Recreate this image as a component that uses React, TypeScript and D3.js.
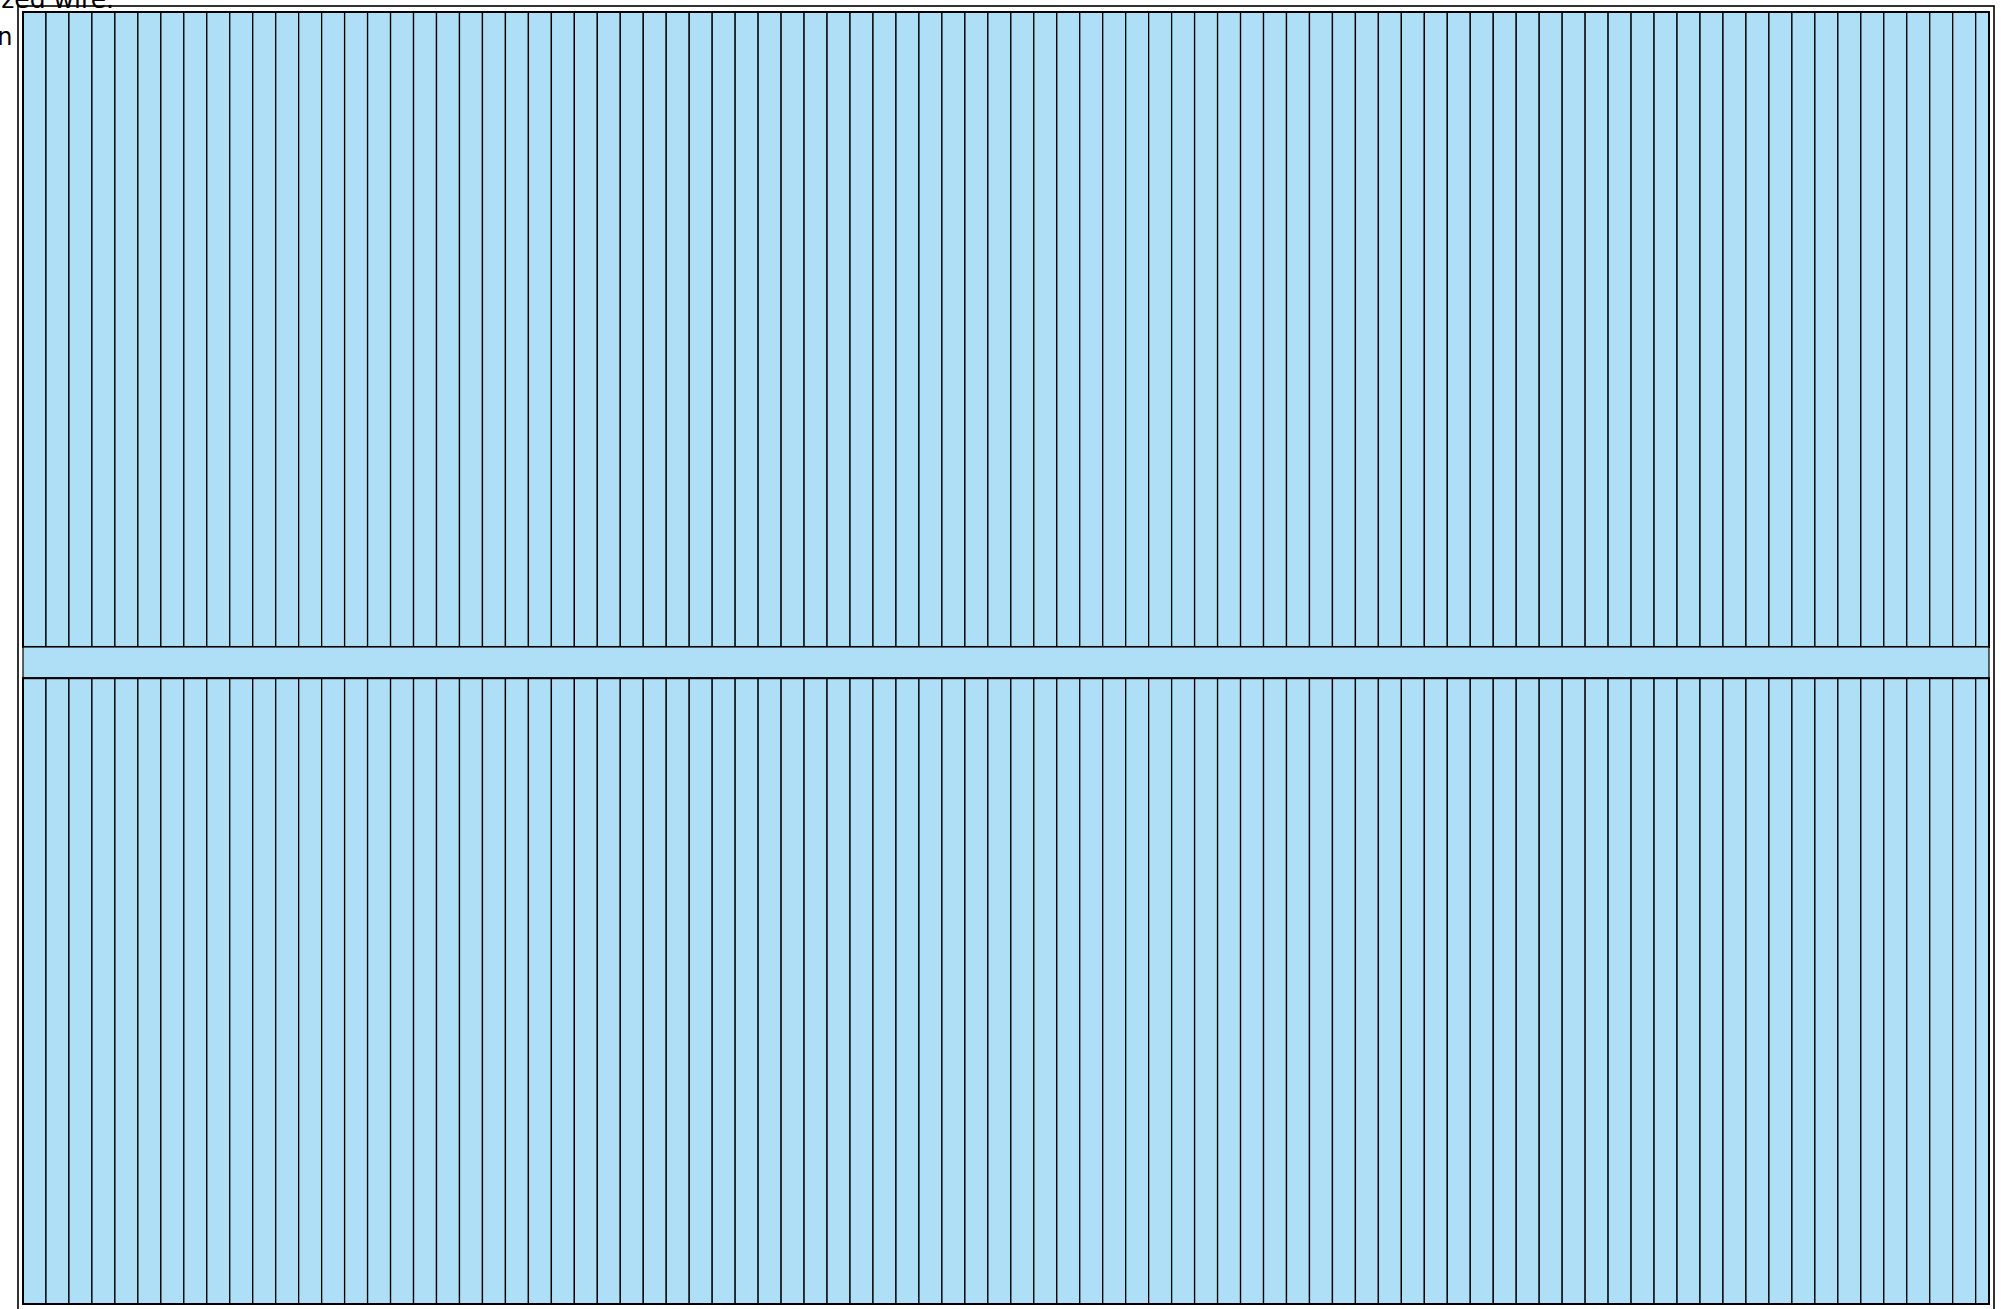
import React, { Component } from 'react';
import * as d3 from 'd3';

// panel layout in mm
const sections = ['Top mesh', 'Rail', 'Bottom mesh'];
const sectionHeights = [1382, 68, 1362];
const panelWidth = 4279;
const wirePitch = 50;

const title = 'Galvanized wire.';
const sideLabel = 'Elevation';

class App extends Component {
  svgRef = React.createRef<SVGSVGElement>();

  componentDidMount() {
    this.renderChart();
  }

  renderChart = () => {
    const svg = d3.select(this.svgRef.current);
    svg.selectAll('*').remove();

    const width = 2001;
    const height = 1309;
    const inner = { left: 23, top: 12, right: 1989, bottom: 1304 };

    const total = d3.sum(sectionHeights);
    const x = d3.scaleLinear().domain([0, panelWidth]).range([inner.left, inner.right]);
    const y = d3.scaleLinear().domain([0, total]).range([inner.top, inner.bottom]);

    const offsets = sectionHeights.map((h, i) => d3.sum(sectionHeights.slice(0, i)));
    const wires = d3.range(0, panelWidth, wirePitch);

    svg.attr('width', width).attr('height', height);

    // frame
    svg
      .append('rect')
      .attr('x', 18)
      .attr('y', 6)
      .attr('width', 1976)
      .attr('height', 1320)
      .attr('fill', 'none')
      .attr('stroke', '#000')
      .attr('stroke-width', 1.6);

    const g = svg.append('g');

    sections.forEach((name, i) => {
      const y0 = y(offsets[i]);
      const y1 = y(offsets[i] + sectionHeights[i]);
      const sg = g.append('g').attr('class', 'section').attr('data-name', name);

      if (name === 'Rail') {
        sg.append('rect')
          .attr('x', x(0))
          .attr('y', y0)
          .attr('width', x(panelWidth) - x(0))
          .attr('height', y1 - y0)
          .attr('fill', '#aedff7')
          .attr('stroke', '#000')
          .attr('stroke-width', 1.2);
        return;
      }

      sg.selectAll('.cell')
        .data(wires)
        .enter()
        .append('rect')
        .attr('class', 'cell')
        .attr('x', d => x(d))
        .attr('y', y0)
        .attr('width', d => x(Math.min(d + wirePitch, panelWidth)) - x(d))
        .attr('height', y1 - y0)
        .attr('fill', '#aedff7')
        .attr('stroke', '#000')
        .attr('stroke-width', 1.3);

      sg.append('rect')
        .attr('x', x(0))
        .attr('y', y0)
        .attr('width', x(panelWidth) - x(0))
        .attr('height', y1 - y0)
        .attr('fill', 'none')
        .attr('stroke', '#000')
        .attr('stroke-width', 2);
    });

    svg
      .append('text')
      .attr('x', 114)
      .attr('y', 8)
      .attr('text-anchor', 'end')
      .attr('font-family', 'DejaVu Sans')
      .attr('font-size', 25)
      .text(title);

    svg
      .append('text')
      .attr('x', 12.5)
      .attr('y', 45)
      .attr('text-anchor', 'end')
      .attr('font-family', 'DejaVu Sans')
      .attr('font-size', 24)
      .text(sideLabel);
  };

  render() {
    return (
      <div style={{ position: 'fixed', left: 0, top: 0, width: 2001, height: 1309, overflow: 'hidden', background: '#fff' }}>
        <svg ref={this.svgRef} style={{ display: 'block' }} />
      </div>
    );
  }
}

export default App;
